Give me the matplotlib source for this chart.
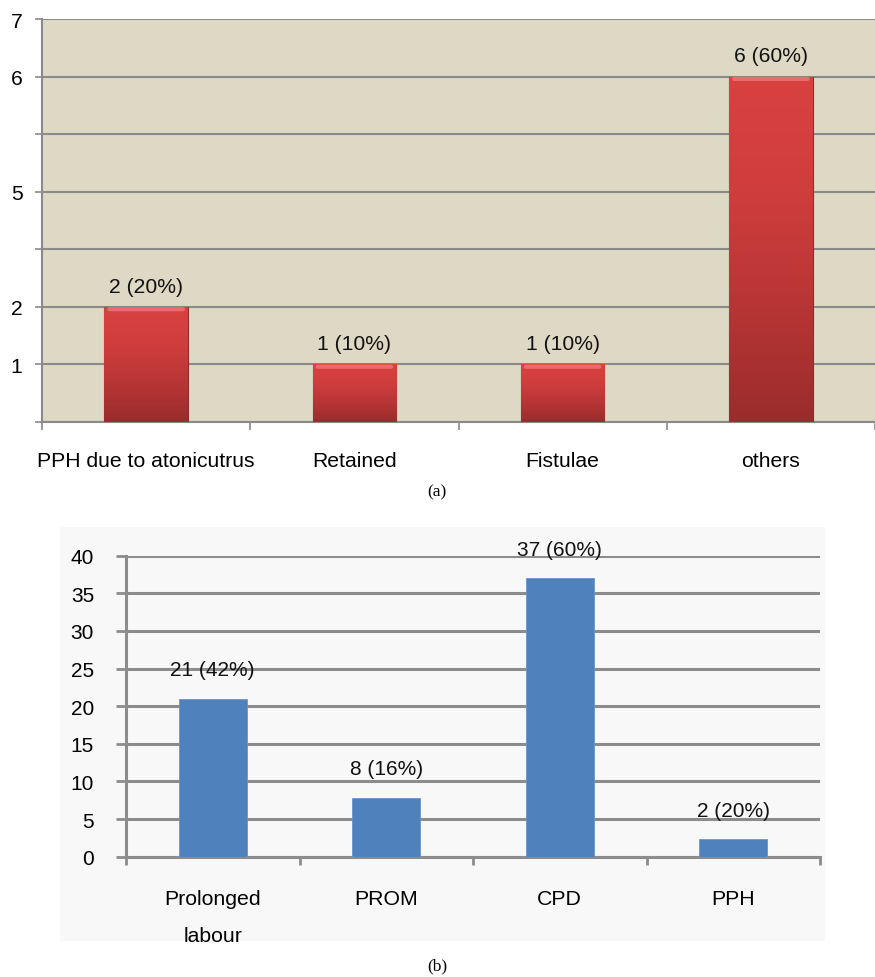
import numpy as np
import matplotlib
matplotlib.use("Agg")
import matplotlib.pyplot as plt
from matplotlib.patches import Rectangle

plt.rcParams["font.family"] = ["Liberation Sans", "DejaVu Sans"]

# panel (a)
cats_a = ["PPH due to atonicutrus", "Retained", "Fistulae", "others"]
vals_a = [2, 1, 1, 6]
labels_a = ["2 (20%)", "1 (10%)", "1 (10%)", "6 (60%)"]
yticks_a = [0, 1, 2, 3, 4, 5, 6, 7]
yticklabels_a = ["", "1", "2", "", "5", "", "6", "7"]

# panel (b)
cats_b = ["Prolonged\nlabour", "PROM", "CPD", "PPH"]
vals_b = [21, 7.8, 37, 2.3]
labels_b = ["21 (42%)", "8 (16%)", "37 (60%)", "2 (20%)"]
yticks_b = [0, 5, 10, 15, 20, 25, 30, 35, 40]

fig = plt.figure(figsize=(8.75, 9.78), dpi=100)

# ---------- (a) ----------
ax1 = fig.add_axes([42 / 875, 1 - 423 / 978, 1 - 42 / 875, (423 - 20) / 978])
ax1.set_facecolor("#DDD9C4")
x = np.arange(len(cats_a))
bars = ax1.bar(x, vals_a, width=0.4, color="#C63A3A", edgecolor="#8E2A2A",
               linewidth=0.8, zorder=3)
grad = np.linspace(0, 1, 256).reshape(-1, 1)
cmap = matplotlib.colors.LinearSegmentedColormap.from_list(
    "redgrad", ["#9A2C2C", "#B83535", "#D03D3D", "#DA4141"])
for b in bars:
    im = ax1.imshow(grad, cmap=cmap, aspect="auto", origin="lower",
                    extent=[b.get_x(), b.get_x() + b.get_width(), 0, b.get_height()],
                    zorder=3.5)
    im.set_clip_path(b)
    # light strip along the top edge
    ax1.annotate("", (b.get_x() + 0.01, b.get_height() - 0.04),
                 xytext=(b.get_x() + b.get_width() - 0.01, b.get_height() - 0.04),
                 arrowprops=dict(arrowstyle="-", color="#EE6A6A", lw=3),
                 zorder=4)
for b, lab in zip(bars, labels_a):
    ax1.annotate(lab, (b.get_x() + b.get_width() / 2, b.get_height()),
                 xytext=(0, 15), textcoords="offset points",
                 ha="center", va="center", fontsize=15.2, color="#111111")
ax1.set_xlim(-0.5, 3.5)
ax1.set_ylim(0, 7)
ax1.set_yticks(yticks_a)
ax1.set_yticklabels(yticklabels_a)
ax1.yaxis.grid(True, color="#8A8A8A", lw=1.5, zorder=1)
ax1.set_axisbelow(True)
ax1.set_xticks(np.arange(-0.5, 4, 1))
ax1.set_xticklabels([])
ax1.set_xticks(x, minor=True)
ax1.set_xticklabels(cats_a, minor=True, fontsize=15.2)
ax1.tick_params(axis="x", which="minor", length=0, pad=21)
ax1.tick_params(axis="x", which="major", length=6, color="#8A8A8A", width=1.2)
ax1.tick_params(axis="y", length=5, color="#8A8A8A", width=1.2, pad=9,
                labelsize=15.2)
for s in ["top", "right"]:
    ax1.spines[s].set_visible(False)
for s in ["left", "bottom"]:
    ax1.spines[s].set_color("#8A8A8A")
    ax1.spines[s].set_linewidth(1.5)

fig.text(437 / 875, 1 - 492 / 978, "(a)", ha="center", va="center",
         fontsize=12.5, family=["Liberation Serif", "DejaVu Serif"])

# ---------- (b) ----------
bg = Rectangle((60 / 875, 1 - 942 / 978), 765 / 875, 414 / 978,
               transform=fig.transFigure, facecolor="#F8F8F8",
               edgecolor="none", zorder=-1)
fig.add_artist(bg)
ax2 = fig.add_axes([126 / 875, 1 - 857.7 / 978, (820 - 126) / 875, 301 / 978])
ax2.set_facecolor("none")
x2 = np.arange(len(cats_b))
bars2 = ax2.bar(x2, vals_b, width=0.39, color="#4F81BD", edgecolor="#6A96CC",
                linewidth=0.6, zorder=3)
for b, lab in zip(bars2, labels_b):
    ax2.annotate(lab, (b.get_x() + b.get_width() / 2, b.get_height()),
                 xytext=(0, 21), textcoords="offset points",
                 ha="center", va="center", fontsize=15, color="#111111")
ax2.set_xlim(-0.5, 3.5)
ax2.set_ylim(0, 40)
ax2.set_yticks(yticks_b)
ax2.yaxis.grid(True, color="#8C8C8C", lw=2.2, zorder=1)
ax2.set_axisbelow(True)
ax2.set_xticks(np.arange(-0.5, 4, 1))
ax2.set_xticklabels([])
ax2.set_xticks(x2, minor=True)
ax2.set_xticklabels(cats_b, minor=True, fontsize=15.3, va="top",
                    linespacing=2.2)
ax2.tick_params(axis="x", which="minor", length=0, pad=23)
ax2.tick_params(axis="x", which="major", length=6, color="#8C8C8C", width=2)
ax2.tick_params(axis="y", length=7, color="#8C8C8C", width=2, pad=16,
                labelsize=15)
for s in ["top", "right"]:
    ax2.spines[s].set_visible(False)
for s in ["left", "bottom"]:
    ax2.spines[s].set_color("#8C8C8C")
    ax2.spines[s].set_linewidth(2.2)

fig.text(437 / 875, 1 - 966 / 978, "(b)", ha="center", va="center",
         fontsize=12.5, family=["Liberation Serif", "DejaVu Serif"])

fig.savefig("out.png", dpi=100)
